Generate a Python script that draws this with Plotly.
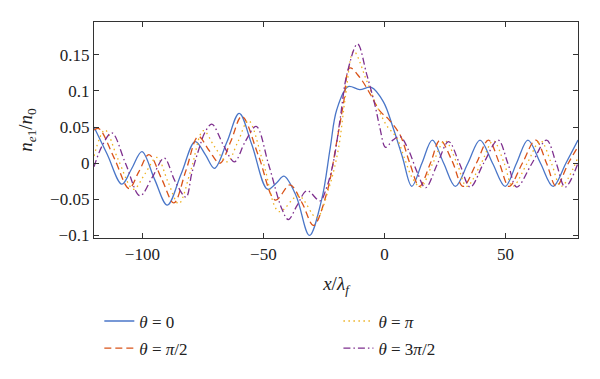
import plotly.graph_objects as go

# ---- data ----
x_theta0 = [-120, -114.5, -108.5, -104.5, -100.2, -95, -89.7, -84, -78.2, -74, -70.2, -65, -60,
            -54.8, -48.3, -44.5, -41.5, -36.5, -31, -25.9, -22.4, -19.7, -15, -10.2, -5.4,
            -0.4, 3.7, 7.5, 11.3, 15.5, 19.8, 24.5, 29.3, 34.5, 39.5, 44.7, 49.9, 54.6, 59.3,
            64.5, 69.7, 75, 80]
y_theta0 = [0.050, 0.012, -0.029, -0.008, 0.016, -0.022, -0.058, -0.015, 0.030, 0.012, -0.007, 0.030, 0.069,
            0.026, -0.036, -0.027, -0.018, -0.045, -0.100, -0.050, 0.021, 0.074, 0.106, 0.102, 0.105,
            0.085, 0.048, 0.008, -0.032, 0.000, 0.032, 0.000, -0.032, 0.000, 0.032, 0.000, -0.032, 0.000, 0.032,
            0.000, -0.032, 0.000, 0.032]

x_theta1 = [-120, -118, -111.5, -105.5, -101.5, -97.3, -92, -87, -82, -76.9, -72.5, -68, -63.5, -58.9,
            -52, -45, -39, -34, -29.3, -23.8, -19.7, -16.9, -14.3, -10, -5.9, -1.8, 1.7, 6.5,
            10.5, 14.5, 19, 23, 28, 32.5, 38, 43, 47.5, 51.5, 57, 62.5, 67, 71, 76, 80]
y_theta1 = [0.046, 0.048, 0.006, -0.035, -0.012, 0.012, -0.022, -0.055, -0.010, 0.037, 0.018, 0.000, 0.030, 0.065,
            0.010, -0.051, -0.030, -0.055, -0.086, -0.041, 0.030, 0.083, 0.132, 0.118, 0.096, 0.072, 0.061, 0.039,
            0.000, -0.032, 0.000, 0.032, 0.003, -0.032, 0.000, 0.032, 0.000, -0.032, 0.000, 0.032, 0.000, -0.032, 0.000, 0.023]

x_theta2 = [-120, -115.5, -110, -103.7, -99, -94, -89.5, -85, -80, -74.8, -70, -65, -60.5, -56.2,
            -50, -43.5, -35.5, -28, -23, -19, -16, -12.7, -7.3, -3.1, 1, 5.1, 8.5, 11.5, 15,
            20, 25, 30, 34, 40, 45, 49.5, 53, 59, 64.5, 69, 73, 80]
y_theta2 = [0.010, 0.046, 0.005, -0.036, -0.015, 0.008, -0.025, -0.056, -0.010, 0.045, 0.022, 0.002, 0.030, 0.059,
            0.000, -0.067, -0.045, -0.075, -0.035, 0.020, 0.095, 0.155, 0.114, 0.079, 0.052, 0.035, 0.005, -0.020, -0.033,
            0.000, 0.031, 0.000, -0.032, 0.000, 0.031, 0.000, -0.032, 0.000, 0.031, 0.000, -0.032, 0.008]

x_theta3 = [-120, -116.5, -112.6, -107, -101, -96, -91, -86.5, -82, -79.6, -76.9, -74.1, -71.3, -66.5,
            -62, -57.5, -53, -47.9, -42.4, -39.7, -36, -32, -26.6, -24, -21, -18.3, -15.5, -11.1,
            -7.3, -3.8, -1.8, 0.5, 3.5, 6.5, 10, 13.5, 17, 22, 26.5, 31, 35.5, 41, 47, 51, 54.7,
            61, 67, 71, 74.7, 80]
y_theta3 = [-0.005, 0.025, 0.042, 0.000, -0.045, -0.020, 0.007, -0.025, -0.047, -0.014, 0.017, 0.043, 0.054, 0.025,
            0.002, 0.030, 0.051, -0.001, -0.063, -0.078, -0.058, -0.038, -0.052, -0.035, 0.003, 0.061, 0.123, 0.165,
            0.123, 0.079, 0.048, 0.022, 0.032, 0.037, 0.018, -0.012, -0.034, 0.000, 0.030, 0.000, -0.033, 0.000, 0.032, 0.000, -0.033,
            0.000, 0.032, 0.000, -0.033, 0.000]

series_names = ["<i>θ</i> = 0", "<i>θ</i> = <i>π</i>/2", "<i>θ</i> = <i>π</i>", "<i>θ</i> = 3<i>π</i>/2"]
x_ticks = [-100, -50, 0, 50]
x_tick_text = ["−100", "−50", "0", "50"]
y_ticks = [-0.1, -0.05, 0, 0.05, 0.1, 0.15]
y_tick_text = ["−0.1", "−0.05", "0", "0.05", "0.1", "0.15"]

colors = ["#4a76c8", "#d95319", "#edb120", "#7e2f8e"]
dashes = ["solid", "7px,4px", "1.5px,3.5px", "7px,3px,1.5px,3px"]
legends = ["legend", "legend", "legend2", "legend2"]

FONT = "Liberation Serif, Times New Roman, DejaVu Serif, serif"

fig = go.Figure()
data = [(x_theta0, y_theta0), (x_theta1, y_theta1), (x_theta2, y_theta2), (x_theta3, y_theta3)]
for i, (xs, ys) in enumerate(data):
    fig.add_trace(go.Scatter(
        x=xs, y=ys, mode="lines", name=series_names[i],
        line=dict(color=colors[i], width=1.3, dash=dashes[i], shape="spline", smoothing=1.0),
        legend=legends[i], legendgroup=str(i),
    ))

axis_common = dict(showline=True, linecolor="#333333", linewidth=1.3, mirror="ticks",
                   ticks="inside", ticklen=5, tickwidth=1, tickcolor="#333333",
                   showgrid=False, zeroline=False, automargin=False,
                   tickfont=dict(family=FONT, size=17, color="#222222"))

fig.update_xaxes(range=[-120, 80], tickvals=x_ticks, ticktext=x_tick_text,
                 title=dict(text="<i>x</i>/<i>λ</i><sub><i>f</i></sub>",
                            font=dict(family=FONT, size=19, color="#222222"), standoff=14),
                 **axis_common)
fig.update_yaxes(range=[-0.1035, 0.1955], tickvals=y_ticks, ticktext=y_tick_text,
                 title=dict(text="<i>n</i><sub><i>e</i>1</sub>/<i>n</i><sub>0</sub>",
                            font=dict(family=FONT, size=19, color="#222222"), standoff=12),
                 **axis_common)

leg_common = dict(font=dict(family=FONT, size=17, color="#222222"), bgcolor="rgba(0,0,0,0)",
                  orientation="v", yanchor="top", xanchor="left", tracegroupgap=2,
                  itemwidth=30)
fig.update_layout(
    width=600, height=379,
    margin=dict(l=94, r=22, t=22, b=131),
    paper_bgcolor="white", plot_bgcolor="white",
    legend=dict(x=0.011, y=-0.303, **leg_common),
    legend2=dict(x=0.505, y=-0.303, **leg_common),
)

# remove the default 8px page margin so the figure sits exactly in the window
fig.write_html("out.html",
               config={"displayModeBar": False},
               post_script="document.body.style.margin='0';document.body.style.overflow='hidden';")
